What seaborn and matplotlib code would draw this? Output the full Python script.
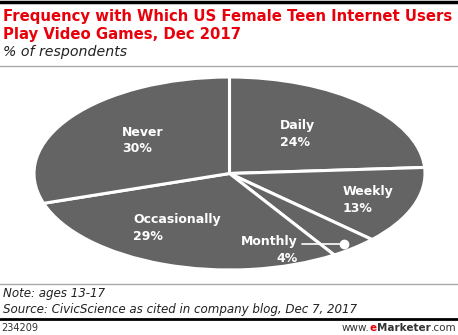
import matplotlib
matplotlib.use("Agg")
import matplotlib.pyplot as plt
import seaborn as sns

categories = ["Daily", "Weekly", "Monthly", "Occasionally", "Never"]
values = [24, 13, 4, 29, 30]
title_lines = ["Frequency with Which US Female Teen Internet Users", "Play Video Games, Dec 2017"]
subtitle = "% of respondents"
note = "Note: ages 13-17"
source = "Source: CivicScience as cited in company blog, Dec 7, 2017"
chart_id = "234209"

sns.set_theme(style="white")
plt.rcParams['font.family'] = ['DejaVu Sans']

W, H = 458, 335
fig = plt.figure(figsize=(W / 100, H / 100), dpi=100)
fig.patch.set_facecolor("white")

def fx(px):
    return px / W

def fy(py):
    return 1 - py / H

def hline(y, color, lw):
    fig.add_artist(plt.Line2D([0, 1], [fy(y), fy(y)], color=color, lw=lw, transform=fig.transFigure))

hline(1.5, "black", 2.5)
hline(66, "#aaaaaa", 1.0)
hline(284, "#aaaaaa", 1.0)
hline(318.5, "black", 2.0)

red = "#e8000b"
fig.text(fx(3), fy(16), title_lines[0], color=red, fontsize=10.7, fontweight="bold", va="center", ha="left")
fig.text(fx(3), fy(34), title_lines[1], color=red, fontsize=10.7, fontweight="bold", va="center", ha="left")
fig.text(fx(3), fy(52), subtitle, color="#222222", fontsize=10.2, style="italic", va="center", ha="left")
fig.text(fx(3), fy(294), note, color="#222222", fontsize=8.6, style="italic", va="center", ha="left")
fig.text(fx(3), fy(309), source, color="#222222", fontsize=8.6, style="italic", va="center", ha="left")
fig.text(fx(1), fy(328), chart_id, color="#333333", fontsize=7, va="center", ha="left")

# www.eMarketer.com, built right-to-left
fig.canvas.draw()
r = fig.canvas.get_renderer()
xr = 456 / W
for txt, col, wt in [(".com", "#333333", "normal"), ("Marketer", "#333333", "bold"),
                     ("e", red, "bold"), ("www.", "#333333", "normal")]:
    t = fig.text(xr, fy(328), txt, color=col, fontsize=7.5, fontweight=wt, va="center", ha="right")
    xr = t.get_window_extent(r).x0 / W

# pie (ellipse via non-equal aspect)
left, right, top, bottom = 34, 425, 77, 270
ax = fig.add_axes([fx(left), fy(bottom), (right - left) / W, (bottom - top) / H])
wedges, _ = ax.pie(values, startangle=90, counterclock=False, colors=["#646464"] * len(values),
                   wedgeprops=dict(edgecolor="white", linewidth=2.2))
ax.set_aspect("auto")
ax.set_xlim(-1, 1)
ax.set_ylim(-1, 1)
ax.axis("off")

def ax_xy(px, py):
    return (px - left) / (right - left) * 2 - 1, 1 - (py - top) / (bottom - top) * 2

label_pos = {
    "Daily": (280, 126, "left"),
    "Weekly": (343, 192, "left"),
    "Monthly": (298, 242, "right"),
    "Occasionally": (133, 220, "left"),
    "Never": (122, 133, "left"),
}
for cat, val in zip(categories, values):
    px, py, ha = label_pos[cat]
    x, y = ax_xy(px, py)
    _, y2 = ax_xy(px, py + 16)
    ax.text(x, y, cat, color="white", fontsize=9, fontweight="bold", ha=ha, va="center")
    ax.text(x, y2, f"{val}%", color="white", fontsize=9, fontweight="bold", ha=ha, va="center")

# Monthly callout line
x1, y1 = ax_xy(302, 244)
x2, y2 = ax_xy(344, 244)
ax.plot([x1, x2], [y1, y2], color="white", lw=1.2)
ax.plot([x2], [y2], "o", color="white", ms=6)

fig.savefig("out.png", dpi=100, facecolor="white")
